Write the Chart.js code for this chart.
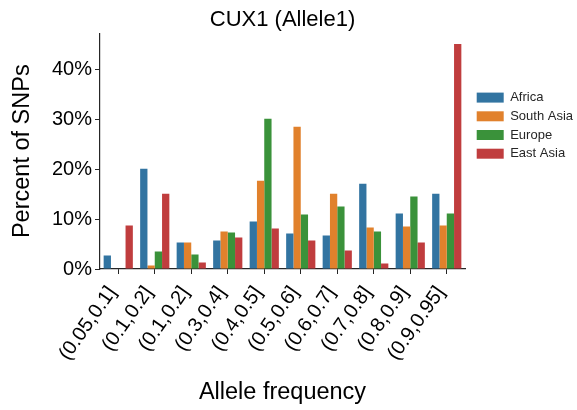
<!DOCTYPE html>
<html>
<head>
<meta charset="utf-8">
<script src="https://cdn.jsdelivr.net/npm/chart.js@4.4.0/dist/chart.umd.min.js"></script>
<style>
  html, body { margin: 0; padding: 0; background: #ffffff; }
  #wrap { width: 577px; height: 410px; }
</style>
</head>
<body>
<div id="wrap"><canvas id="c" width="577" height="410"></canvas></div>
<script>
const categories = ["(0.05,0.1]", "(0.1,0.2]", "(0.1,0.2]", "(0.3,0.4]", "(0.4,0.5]", "(0.5,0.6]", "(0.6,0.7]", "(0.7,0.8]", "(0.8,0.9]", "(0.9,0.95]"];
const africa    = [2.7, 20.1, 5.3, 5.7, 9.5, 7.1, 6.7, 17.1, 11.1, 15.1];
const southAsia = [0.0, 0.7, 5.3, 7.5, 17.7, 28.5, 15.1, 8.3, 8.5, 8.7];
const europe    = [0.0, 3.5, 2.9, 7.3, 30.1, 10.9, 12.5, 7.5, 14.5, 11.1];
const eastAsia  = [8.7, 15.1, 1.3, 6.3, 8.1, 5.7, 3.7, 1.1, 5.3, 45.1];
const seriesNames = ["Africa", "South Asia", "Europe", "East Asia"];
const seriesColors = ["#3274a1", "#e1812c", "#3a923a", "#c03d3e"];
const yTicks = [0, 10, 20, 30, 40];

const FONT = "'Liberation Sans', Arial, Helvetica, sans-serif";
const INK = "#262626";

const data = {
  labels: categories,
  datasets: [africa, southAsia, europe, eastAsia].map((vals, i) => ({
    label: seriesNames[i],
    data: vals,
    backgroundColor: seriesColors[i],
    borderWidth: 0,
    categoryPercentage: 0.8,
    barPercentage: 1.0
  }))
};

const chart = new Chart(document.getElementById('c'), {
  type: 'bar',
  data: data,
  options: {
    responsive: false,
    animation: false,
    devicePixelRatio: 1,
    layout: { padding: { left: 8, right: 0, top: 4, bottom: 3 } },
    plugins: {
      title: {
        display: true,
        text: 'CUX1 (Allele1)',
        fullSize: false,
        color: '#000',
        font: { family: FONT, size: 22, weight: 'normal' },
        padding: { top: 3, bottom: 0 }
      },
      legend: {
        display: true,
        position: 'right',
        align: 'start',
        title: { display: true, text: '', padding: { top: 67, bottom: 0 } },
        labels: {
          boxWidth: 27,
          boxHeight: 10,
          padding: 5.7,
          color: INK,
          font: { family: FONT, size: 13 }
        }
      },
      tooltip: { enabled: false }
    },
    scales: {
      x: {
        offset: true,
        grid: { display: true, drawOnChartArea: false, drawTicks: true, tickLength: 5, color: INK, lineWidth: 1, offset: false },
        border: { display: true, color: INK, width: 1.2 },
        ticks: {
          color: '#000',
          font: { family: FONT, size: 20 },
          minRotation: 55,
          maxRotation: 55,
          padding: 8,
          labelOffset: -6,
          autoSkip: false
        },
        title: {
          display: true,
          text: 'Allele frequency',
          color: '#000',
          font: { family: FONT, size: 23.5 },
          padding: { top: 0, bottom: 0 }
        },
        afterFit: (s) => { s.height = 138; }
      },
      y: {
        min: 0,
        max: 47.2,
        grid: { display: true, drawOnChartArea: false, drawTicks: true, tickLength: 5, color: INK, lineWidth: 1 },
        border: { display: true, color: INK, width: 1.2 },
        afterBuildTicks: (s) => { s.ticks = yTicks.map(v => ({ value: v })); },
        ticks: {
          color: '#000',
          font: { family: FONT, size: 20 },
          padding: 3,
          callback: (v) => v + '%'
        },
        title: {
          display: true,
          text: 'Percent of SNPs',
          color: '#000',
          font: { family: FONT, size: 23.5 },
          padding: { top: 0, bottom: 4 }
        },
        afterFit: (s) => { s.width = 92; }
      }
    }
  }
});

// keep the legend column at the reference width and nudge its items right
const lg = chart.legend;
const origFit = lg.fit.bind(lg);
lg.fit = function () { origFit(); this.width = 112; };
const origDraw = lg.draw.bind(lg);
lg.draw = function () {
  const ctx = this.ctx;
  ctx.save();
  ctx.translate(6, 0);
  origDraw();
  ctx.restore();
};
chart.update();
</script>
</body>
</html>
